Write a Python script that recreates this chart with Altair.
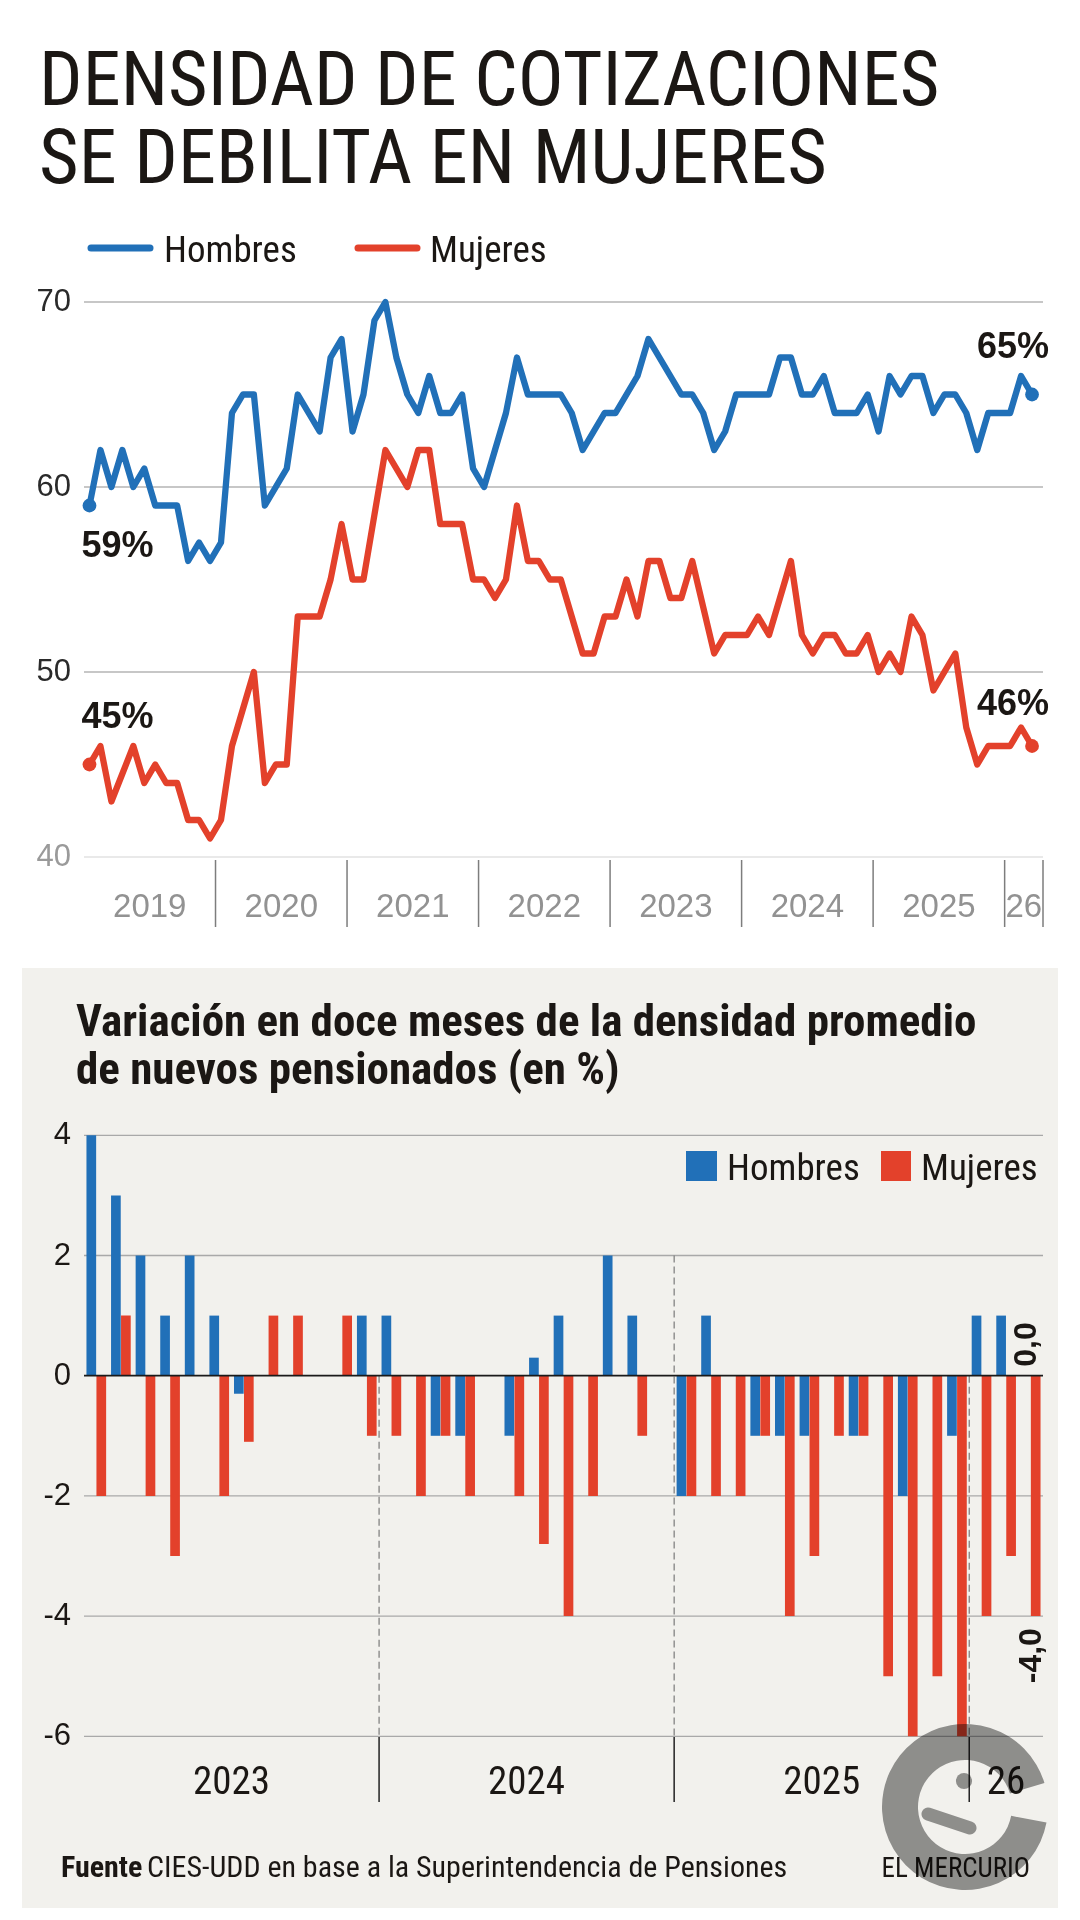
import altair as alt
import pandas as pd

# ---------------- data: top chart (densidad de cotizaciones, %) ----------------
anios_sup = ["2019", "2020", "2021", "2022", "2023", "2024", "2025", "26"]
hombres = [59, 62, 60, 62, 60, 61, 59, 59, 59, 56, 57, 56,
           57, 64, 65, 65, 59, 60, 61, 65, 64, 63, 67, 68,
           63, 65, 69, 70, 67, 65, 64, 66, 64, 64, 65, 61,
           60, 62, 64, 67, 65, 65, 65, 65, 64, 62, 63, 64,
           64, 65, 66, 68, 67, 66, 65, 65, 64, 62, 63, 65,
           65, 65, 65, 67, 67, 65, 65, 66, 64, 64, 64, 65,
           63, 66, 65, 66, 66, 64, 65, 65, 64, 62, 64, 64,
           64, 66, 65]
mujeres = [45, 46, 43, 44.5, 46, 44, 45, 44, 44, 42, 42, 41,
           42, 46, 48, 50, 44, 45, 45, 53, 53, 53, 55, 58,
           55, 55, 58.5, 62, 61, 60, 62, 62, 58, 58, 58, 55,
           55, 54, 55, 59, 56, 56, 55, 55, 53, 51, 51, 53,
           53, 55, 53, 56, 56, 54, 54, 56, 53.5, 51, 52, 52,
           52, 53, 52, 54, 56, 52, 51, 52, 52, 51, 51, 52,
           50, 51, 50, 53, 52, 49, 50, 51, 47, 45, 46, 46,
           46, 47, 46]
ticks_sup = [40, 50, 60, 70]

# ---------------- data: bottom chart (variacion en doce meses, %) ----------------
anios_inf = ["2023", "2024", "2025", "26"]
meses_inf = [f"{y}-{m:02d}" for y in (2023, 2024, 2025) for m in range(1, 13)] + \
            ["2026-01", "2026-02", "2026-03"]
var_hombres = [4, 3, 2, 1, 2, 1, -0.3, 0, 0, 0, 0, 1,
               1, 0, -1, -1, 0, -1, 0.3, 1, 0, 2, 1, 0,
               -2, 1, 0, -1, -1, -1, 0, -1, 0, -2, 0, -1,
               1, 1, 0]
var_mujeres = [-2, 1, -2, -3, 0, -2, -1.1, 1, 1, 0, 1, -1,
               -1, -2, -1, -2, 0, -2, -2.8, -4, -2, 0, -1, 0,
               -2, -2, -2, -1, -4, -3, -1, -1, -5, -6, -5, -6,
               -4, -3, -4]
ticks_inf = [-6, -4, -2, 0, 2, 4]
sexos = ["Hombres", "Mujeres"]

# ---------------- styling ----------------
BLUE = "#2170b8"
RED = "#e3412b"
FONT_N = "'Roboto Condensed', 'DejaVu Sans Condensed', sans-serif"
FONT = "'Liberation Sans', Arial, sans-serif"
INK = "#1b1714"

one = pd.DataFrame({"k": [0]})
col = alt.Scale(domain=sexos, range=[BLUE, RED])


def txt(s, x, y, size, font=FONT_N, weight="normal", color=INK, align="left",
        baseline="alphabetic"):
    return alt.Chart(one).mark_text(
        text=s, font=font, fontSize=size, fontWeight=weight, color=color,
        align=align, baseline=baseline
    ).encode(x=alt.value(x), y=alt.value(y))


# ================= TOP CHART =================
n_top = len(hombres)
xs_t = alt.Scale(domain=[-0.5, n_top], range=[84, 1043], nice=False, zero=False)
ys_t = alt.Scale(domain=[40, 70], range=[857, 302], nice=False, zero=False)

df_t = pd.DataFrame({
    "i": list(range(n_top)) * 2,
    "valor": hombres + mujeres,
    "sexo": [sexos[0]] * n_top + [sexos[1]] * n_top,
})
df_tick_t = pd.DataFrame({"v": ticks_sup, "lab": [str(t) for t in ticks_sup]})
bounds_t = [12 * k - 0.5 for k in range(1, len(anios_sup))] + [n_top]
starts_t = [-0.5] + bounds_t[:-1]
df_sep_t = pd.DataFrame({"b": bounds_t})
df_year_t = pd.DataFrame({"c": [(a + b) / 2 for a, b in zip(starts_t, bounds_t)],
                          "lab": anios_sup})

grid_t = alt.Chart(df_tick_t).mark_rule(strokeWidth=1.3).encode(
    y=alt.Y("v:Q", scale=ys_t, axis=None),
    x=alt.value(84), x2=alt.value(1043),
    color=alt.condition("datum.v == 40", alt.value("#e2e2e2"), alt.value("#b4b4b4")),
)
ylab_t = alt.Chart(df_tick_t).mark_text(
    align="right", baseline="middle", font=FONT, fontSize=31
).encode(
    y=alt.Y("v:Q", scale=ys_t, axis=None), x=alt.value(71), text="lab:N",
    color=alt.condition("datum.v == 40", alt.value("#9a9a9a"), alt.value("#2a2a2a")),
)
lines_t = alt.Chart(df_t).mark_line(
    strokeWidth=6.3, strokeJoin="round", strokeCap="round"
).encode(
    x=alt.X("i:Q", scale=xs_t, axis=None),
    y=alt.Y("valor:Q", scale=ys_t, axis=None),
    color=alt.Color("sexo:N", scale=col, legend=None),
)
dots_t = alt.Chart(df_t).mark_circle(size=190, opacity=1).encode(
    x=alt.X("i:Q", scale=xs_t, axis=None),
    y=alt.Y("valor:Q", scale=ys_t, axis=None),
    color=alt.Color("sexo:N", scale=col, legend=None),
).transform_filter(f"datum.i == 0 || datum.i == {n_top - 1}")

pct_layers = []
pct_specs = [  # (sexo, which end, align, dx, dy)
    ("Hombres", 0, "left", -8, 51),
    ("Mujeres", 0, "left", -8, -37),
    ("Hombres", n_top - 1, "right", 17, -37),
    ("Mujeres", n_top - 1, "right", 17, -31),
]
for sx, ii, al, dx, dy in pct_specs:
    pct_layers.append(
        alt.Chart(df_t).transform_filter(
            f"datum.sexo == '{sx}' && datum.i == {ii}"
        ).transform_calculate(
            lab="format(datum.valor, '.0f') + '%'"
        ).mark_text(
            align=al, baseline="alphabetic", dx=dx, dy=dy, font=FONT,
            fontWeight="bold", fontSize=36, color=INK
        ).encode(
            x=alt.X("i:Q", scale=xs_t, axis=None),
            y=alt.Y("valor:Q", scale=ys_t, axis=None),
            text="lab:N",
        )
    )

sep_t = alt.Chart(df_sep_t).mark_rule(color="#7d7d7d", strokeWidth=1.5).encode(
    x=alt.X("b:Q", scale=xs_t, axis=None), y=alt.value(860), y2=alt.value(927))
years_t = alt.Chart(df_year_t).mark_text(
    font=FONT, fontSize=33, color="#929292", baseline="alphabetic"
).encode(x=alt.X("c:Q", scale=xs_t, axis=None), y=alt.value(917), text="lab:N")

top = alt.layer(grid_t, ylab_t, sep_t, years_t, lines_t, dots_t, *pct_layers)

# top legend
leg_t = alt.layer(
    alt.Chart(one).mark_rule(color=BLUE, strokeWidth=7, strokeCap="round").encode(
        x=alt.value(91), x2=alt.value(150), y=alt.value(248)),
    alt.Chart(one).mark_rule(color=RED, strokeWidth=7, strokeCap="round").encode(
        x=alt.value(358), x2=alt.value(417), y=alt.value(248)),
    txt("Hombres", 164, 262, 37),
    txt("Mujeres", 430, 262, 37),
)

# ================= BOTTOM CHART =================
n_bot = len(meses_inf)
xb = alt.Scale(domain=meses_inf, range=[84, 1043], paddingInner=0.2, paddingOuter=0.1)
xq = alt.Scale(domain=[0, n_bot], range=[84, 1043], nice=False, zero=False)
yb = alt.Scale(domain=[-6, 4], range=[1736.3, 1135.3], nice=False, zero=False)

df_b = pd.DataFrame({
    "mes": meses_inf * 2,
    "valor": var_hombres + var_mujeres,
    "sexo": [sexos[0]] * n_bot + [sexos[1]] * n_bot,
})
df_tick_b = pd.DataFrame({"v": ticks_inf, "lab": [str(t) for t in ticks_inf]})
bounds_b = [12 * k for k in range(1, len(anios_inf))]
starts_b = [0] + bounds_b
ends_b = bounds_b + [n_bot]
df_year_b = pd.DataFrame({"c": [(a + b) / 2 for a, b in zip(starts_b, ends_b)],
                          "lab": anios_inf})
df_dash = pd.DataFrame({"b": bounds_b, "top": [0, 2, 0]})

panel = alt.Chart(one).mark_rect(color="#f2f1ed").encode(
    x=alt.value(22), x2=alt.value(1058), y=alt.value(968), y2=alt.value(1908))

grid_b = alt.Chart(df_tick_b).transform_filter("datum.v != 0").mark_rule(
    color="#a9a9a9", strokeWidth=1.3
).encode(y=alt.Y("v:Q", scale=yb, axis=None), x=alt.value(84), x2=alt.value(1043))
ylab_b = alt.Chart(df_tick_b).mark_text(
    align="right", baseline="middle", font=FONT, fontSize=31, color=INK
).encode(y=alt.Y("v:Q", scale=yb, axis=None), x=alt.value(71), text="lab:N")
dash_b = alt.Chart(df_dash).mark_rule(
    color="#7a7a7a", strokeWidth=1.2, strokeDash=[7, 4]
).encode(
    x=alt.X("b:Q", scale=xq, axis=None),
    y=alt.Y("top:Q", scale=yb, axis=None), y2=alt.datum(-6),
)
sep_b = alt.Chart(pd.DataFrame({"b": bounds_b})).mark_rule(
    color="#222222", strokeWidth=1.5
).encode(x=alt.X("b:Q", scale=xq, axis=None), y=alt.value(1737), y2=alt.value(1802))
years_b = alt.Chart(df_year_b).mark_text(
    font=FONT_N, fontSize=39, color=INK, baseline="alphabetic"
).encode(x=alt.X("c:Q", scale=xq, axis=None), y=alt.value(1794), text="lab:N")
zero_b = alt.Chart(one).mark_rule(color="#1a1a1a", strokeWidth=1.8).encode(
    y=alt.Y(datum=0, scale=yb, axis=None), x=alt.value(84), x2=alt.value(1043))

axes_b = alt.layer(grid_b, ylab_b, dash_b, sep_b, years_b)

bars_b = alt.Chart(df_b).mark_bar().encode(
    x=alt.X("mes:O", scale=xb, axis=None),
    xOffset=alt.XOffset("sexo:N", scale=alt.Scale(domain=sexos, paddingInner=0.03)),
    y=alt.Y("valor:Q", scale=yb, axis=None),
    y2=alt.datum(0),
    color=alt.Color("sexo:N", scale=col, legend=None),
)
last_mes = meses_inf[-1]
lab_expr = "replace(replace(format(datum.valor, '.1f'), '.', ','), '\u2212', '-')"
lab_h = alt.Chart(df_b).transform_filter(
    f"datum.mes == '{last_mes}' && datum.sexo == 'Hombres'"
).transform_calculate(lab=lab_expr).mark_text(
    angle=270, align="left", baseline="middle", dx=9, font=FONT, fontWeight="bold",
    fontSize=32, color=INK
).encode(
    x=alt.X("mes:O", scale=xb, axis=None),
    xOffset=alt.XOffset("sexo:N", scale=alt.Scale(domain=sexos, paddingInner=0.03)),
    y=alt.Y("valor:Q", scale=yb, axis=None), text="lab:N",
)
lab_m = alt.Chart(df_b).transform_filter(
    f"datum.mes == '{last_mes}' && datum.sexo == 'Mujeres'"
).transform_calculate(lab=lab_expr).mark_text(
    angle=270, align="right", baseline="middle", dx=-12, font=FONT, fontWeight="bold",
    fontSize=32, color=INK
).encode(
    x=alt.X("mes:O", scale=xb, axis=None),
    y=alt.Y("valor:Q", scale=yb, axis=None), text="lab:N",
)
bars_grp = alt.layer(bars_b, lab_h, lab_m)

leg_b = alt.layer(
    alt.Chart(one).mark_rect(color=BLUE).encode(
        x=alt.value(686), x2=alt.value(717), y=alt.value(1151), y2=alt.value(1181)),
    alt.Chart(one).mark_rect(color=RED).encode(
        x=alt.value(881), x2=alt.value(911), y=alt.value(1151), y2=alt.value(1181)),
    txt("Hombres", 727, 1180, 37),
    txt("Mujeres", 921, 1180, 37),
)

# watermark (publisher's logo)
LOGO = "#969696"
mark_logo = alt.layer(
    alt.Chart(one).mark_arc(
        color=LOGO, innerRadius=47, outerRadius=83, theta=1.76, theta2=7.56,
        blend="multiply"
    ).encode(x=alt.value(965), y=alt.value(1807)),
    alt.Chart(one).mark_circle(color=LOGO, opacity=1, size=260, blend="multiply").encode(
        x=alt.value(964), y=alt.value(1781)),
    alt.Chart(one).mark_rule(color=LOGO, strokeWidth=13, strokeCap="round",
                             blend="multiply").encode(
        x=alt.value(928), x2=alt.value(970), y=alt.value(1814), y2=alt.value(1828)),
)

texts = alt.layer(
    txt("DENSIDAD DE COTIZACIONES", 39, 105, 76.5),
    txt("SE DEBILITA EN MUJERES", 39, 183, 76.5),
    txt("Variación en doce meses de la densidad promedio", 76, 1036, 45, weight="bold"),
    txt("de nuevos pensionados (en %)", 76, 1084, 45, weight="bold"),
    txt("Fuente", 61, 1877, 30, weight="bold"),
    txt("CIES-UDD en base a la Superintendencia de Pensiones", 147, 1877, 30),
    txt("EL MERCURIO", 1030, 1877, 27, align="right"),
)

chart = alt.layer(
    panel, top, leg_t, axes_b, bars_grp, zero_b, leg_b, texts, mark_logo
).resolve_scale(
    x="independent", y="independent"
).properties(
    width=1080, height=1920, padding=0,
    autosize=alt.AutoSizeParams(type="none"), background="white"
).configure_view(stroke=None)

chart.save("out.html", embed_options={"renderer": "svg", "actions": False})
